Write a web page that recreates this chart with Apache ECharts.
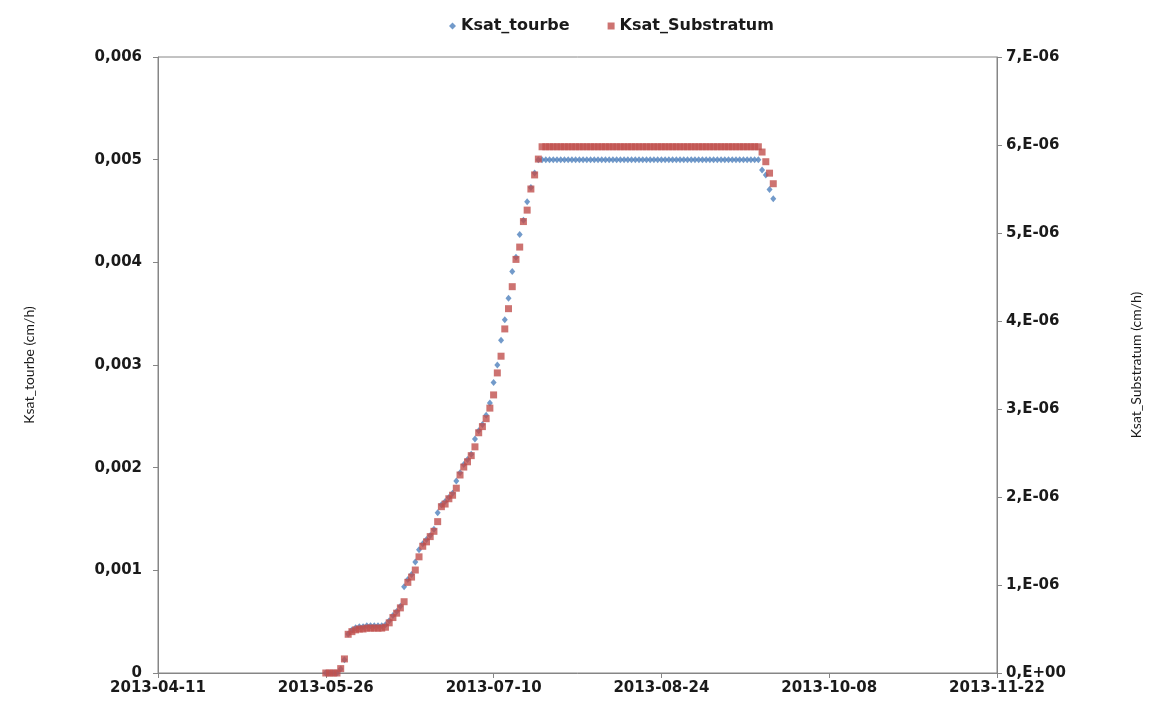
<!DOCTYPE html>
<html>
<head>
<meta charset="utf-8">
<title>Ksat</title>
<script src="https://cdn.jsdelivr.net/npm/echarts@6/dist/echarts.min.js"></script>
<style>
  html, body { margin: 0; padding: 0; background: #ffffff; }
  #chart { width: 1152px; height: 704px; }
</style>
</head>
<body>
<div id="chart"></div>
<script>
// Axis range and tick step (days)
const axisStart = '2013-04-11';
const axisEnd = '2013-11-22';
const tickStepDays = 45;

// Daily series, first sample on this date
const firstDate = '2013-05-26';

// Ksat_tourbe (cm/h), one value per day
const ksatTourbe = [
  0, 0, 0, 0, 0.00004, 0.00013, 0.00038, 0.00042, 0.00044, 0.00045,
  0.00045, 0.00046, 0.00046, 0.00046, 0.00046, 0.00046, 0.00047, 0.00051, 0.00056, 0.00060,
  0.00065, 0.00084, 0.00091, 0.00096, 0.00108, 0.00120, 0.00126, 0.00130, 0.00134, 0.00140,
  0.00156, 0.00164, 0.00167, 0.00171, 0.00175, 0.00187, 0.00195, 0.00203, 0.00208, 0.00213,
  0.00228, 0.00236, 0.00242, 0.00251, 0.00263, 0.00283, 0.00300, 0.00324, 0.00344, 0.00365,
  0.00391, 0.00405, 0.00427, 0.00441, 0.00459, 0.00473, 0.00487,
  0.005, 0.005, 0.005, 0.005, 0.005, 0.005, 0.005, 0.005, 0.005, 0.005,
  0.005, 0.005, 0.005, 0.005, 0.005, 0.005, 0.005, 0.005, 0.005, 0.005,
  0.005, 0.005, 0.005, 0.005, 0.005, 0.005, 0.005, 0.005, 0.005, 0.005,
  0.005, 0.005, 0.005, 0.005, 0.005, 0.005, 0.005, 0.005, 0.005, 0.005,
  0.005, 0.005, 0.005, 0.005, 0.005, 0.005, 0.005, 0.005, 0.005, 0.005,
  0.005, 0.005, 0.005, 0.005, 0.005, 0.005, 0.005, 0.005, 0.005, 0.005,
  0.00490, 0.00485, 0.00471, 0.00462
];

// Ksat_Substratum (cm/h), one value per day
const ksatSubstratum = [
  0, 0, 0, 0, 0.05e-6, 0.16e-6, 0.44e-6, 0.47e-6, 0.49e-6, 0.50e-6,
  0.50e-6, 0.51e-6, 0.51e-6, 0.51e-6, 0.51e-6, 0.51e-6, 0.52e-6, 0.57e-6, 0.63e-6, 0.68e-6,
  0.74e-6, 0.81e-6, 1.03e-6, 1.09e-6, 1.17e-6, 1.32e-6, 1.44e-6, 1.49e-6, 1.55e-6, 1.61e-6,
  1.72e-6, 1.89e-6, 1.92e-6, 1.98e-6, 2.02e-6, 2.10e-6, 2.25e-6, 2.34e-6, 2.40e-6, 2.47e-6,
  2.57e-6, 2.73e-6, 2.80e-6, 2.89e-6, 3.01e-6, 3.16e-6, 3.41e-6, 3.60e-6, 3.91e-6, 4.14e-6,
  4.39e-6, 4.70e-6, 4.84e-6, 5.13e-6, 5.26e-6, 5.50e-6, 5.66e-6, 5.84e-6,
  5.98e-6, 5.98e-6, 5.98e-6, 5.98e-6, 5.98e-6, 5.98e-6, 5.98e-6, 5.98e-6, 5.98e-6, 5.98e-6,
  5.98e-6, 5.98e-6, 5.98e-6, 5.98e-6, 5.98e-6, 5.98e-6, 5.98e-6, 5.98e-6, 5.98e-6, 5.98e-6,
  5.98e-6, 5.98e-6, 5.98e-6, 5.98e-6, 5.98e-6, 5.98e-6, 5.98e-6, 5.98e-6, 5.98e-6, 5.98e-6,
  5.98e-6, 5.98e-6, 5.98e-6, 5.98e-6, 5.98e-6, 5.98e-6, 5.98e-6, 5.98e-6, 5.98e-6, 5.98e-6,
  5.98e-6, 5.98e-6, 5.98e-6, 5.98e-6, 5.98e-6, 5.98e-6, 5.98e-6, 5.98e-6, 5.98e-6, 5.98e-6,
  5.98e-6, 5.98e-6, 5.98e-6, 5.98e-6, 5.98e-6, 5.98e-6, 5.98e-6, 5.98e-6, 5.98e-6,
  5.92e-6, 5.81e-6, 5.68e-6, 5.56e-6
];

const DAY = 86400000;
const t0 = Date.parse(axisStart + 'T00:00:00Z');
const dayOffset = (iso) => Math.round((Date.parse(iso + 'T00:00:00Z') - t0) / DAY);
const dateLabel = (d) => new Date(t0 + d * DAY).toISOString().slice(0, 10);

const startOffset = dayOffset(firstDate);
const tourbeData = ksatTourbe.map((v, i) => [startOffset + i, v]);
const substratumData = ksatSubstratum.map((v, i) => [startOffset + i, v]);

const axisGray = '#868686';
const labelFont = { fontFamily: 'DejaVu Sans', fontWeight: 'bold', fontSize: 15, color: '#1a1a1a' };
const titleFont = { fontFamily: 'Lato', fontWeight: 'normal', fontSize: 14, color: '#1a1a1a' };

const chart = echarts.init(document.getElementById('chart'), null, { renderer: 'canvas' });
chart.setOption({
  animation: false,
  backgroundColor: '#ffffff',
  legend: {
    top: 13,
    left: 444,
    itemGap: 38,
    itemWidth: 7,
    itemHeight: 7,
    textStyle: Object.assign({}, labelFont, { fontSize: 16 }),
    data: [
      { name: 'Ksat_tourbe', icon: 'diamond' },
      { name: 'Ksat_Substratum', icon: 'rect' }
    ]
  },
  grid: {
    left: 158, right: 155, top: 57, bottom: 31,
    show: true, borderColor: axisGray, borderWidth: 1, backgroundColor: 'transparent'
  },
  xAxis: {
    type: 'value',
    min: 0,
    max: dayOffset(axisEnd),
    interval: tickStepDays,
    splitLine: { show: false },
    axisLine: { lineStyle: { color: axisGray } },
    axisTick: { show: true, length: 5, lineStyle: { color: axisGray } },
    axisLabel: Object.assign({}, labelFont, { margin: 8, formatter: (v) => dateLabel(v) })
  },
  yAxis: [
    {
      type: 'value',
      position: 'left',
      min: 0, max: 0.006, interval: 0.001,
      name: 'Ksat_tourbe (cm/h)',
      nameLocation: 'middle',
      nameRotate: 90,
      nameGap: 122,
      nameTextStyle: titleFont,
      splitLine: { show: false },
      axisLine: { show: true, lineStyle: { color: axisGray } },
      axisTick: { show: true, length: 5, lineStyle: { color: axisGray } },
      axisLabel: Object.assign({}, labelFont, {
        margin: 16,
        formatter: (v) => v === 0 ? '0' : (Math.round(v * 1000) / 1000).toFixed(3).replace('.', ',')
      })
    },
    {
      type: 'value',
      position: 'right',
      min: 0, max: 7e-6, interval: 1e-6,
      name: 'Ksat_Substratum (cm/h)',
      nameLocation: 'middle',
      nameRotate: 90,
      nameGap: 132,
      nameTextStyle: titleFont,
      splitLine: { show: false },
      axisLine: { show: true, lineStyle: { color: axisGray } },
      axisTick: { show: true, length: 5, lineStyle: { color: axisGray } },
      axisLabel: Object.assign({}, labelFont, {
        margin: 9,
        formatter: (v) => {
          const n = Math.round(v * 1e6);
          return n === 0 ? '0,E+00' : n + ',E-06';
        }
      })
    }
  ],
  series: [
    {
      name: 'Ksat_tourbe',
      type: 'scatter',
      yAxisIndex: 0,
      symbol: 'diamond',
      symbolSize: [6, 7],
      itemStyle: { color: '#4F81BD' },
      data: tourbeData,
      z: 2
    },
    {
      name: 'Ksat_Substratum',
      type: 'scatter',
      yAxisIndex: 1,
      symbol: 'rect',
      symbolSize: 7,
      itemStyle: { color: '#C0504D' },
      data: substratumData,
      z: 3
    }
  ]
});
</script>
</body>
</html>
